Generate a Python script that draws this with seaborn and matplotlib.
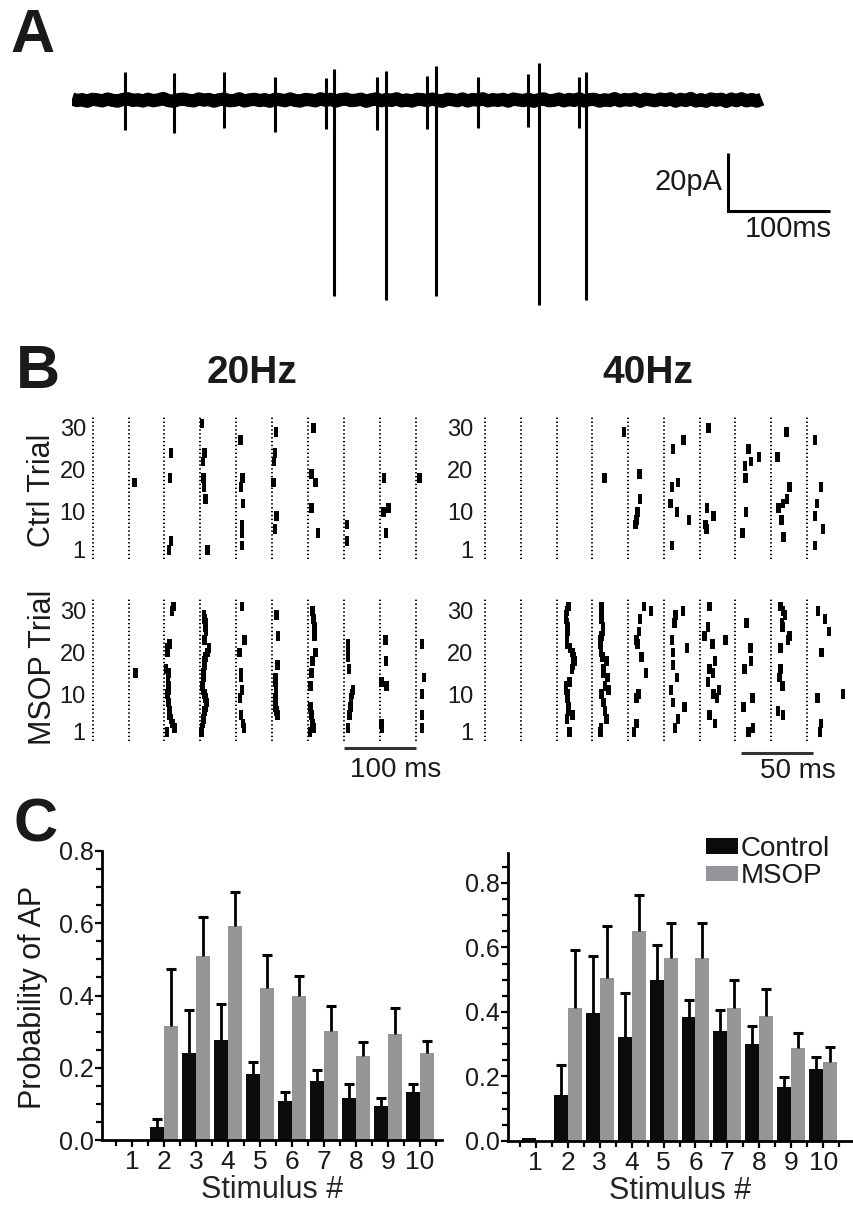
import matplotlib
matplotlib.use("Agg")
import matplotlib.pyplot as plt
from matplotlib.patches import Patch
from matplotlib.ticker import MultipleLocator, FixedLocator, FormatStrFormatter
import seaborn as sns
import pandas as pd
import numpy as np

# ---------------- Panel A: example cell-attached trace (20 Hz train) ----------------
A_STIM_TIMES = [52, 101, 150, 200, 250, 301, 350, 400, 450, 500]          # ms
A_ARTIFACT_UP = [9.7, 9.3, 9.7, 7.9, 7.6, 7.9, 8.3, 7.9, 9.0, 7.9]         # pA
A_ARTIFACT_DOWN = [-10.3, -11.4, -9.7, -11.0, -10.0, -10.3, -10.0, -9.7, -9.3, -9.7]
A_AP_STIMULI = [5, 6, 7, 9, 10]
A_AP_LATENCY = [8, 9, 9, 10, 7]                                            # ms
A_AP_UP = [10.7, 10.0, 11.7, 12.8, 9.7]
A_AP_DOWN = [-67.6, -69.0, -67.6, -70.7, -69.0]
# baseline noise, one value every 5 ms
A_BASELINE = [0.4, -0.2, 0.15, -0.45, 0.25, 0.05, -0.3, 0.35, -0.1, -0.4, 0.2, 0.45, -0.15, 0.1, -0.35, 0.3, -0.25, 0.05, 0.55, -0.2,
              -0.45, 0.15, 0.3, -0.1, -0.3, 0.4, -0.05, 0.2, -0.4, 0.1, 0.35, -0.25, -0.15, 0.45, -0.35, 0.05, 0.25, -0.2, 0.15, -0.45,
              0.3, 0.1, -0.25, 0.4, -0.15, -0.35, 0.2, 0.05, -0.3, 0.45, -0.1, 0.25, -0.4, 0.15, 0.35, -0.2, -0.05, 0.3, -0.45, 0.1,
              0.4, -0.25, 0.2, -0.15, 0.45, -0.3, 0.05, -0.4, 0.25, 0.15, -0.2, 0.35, -0.1, -0.45, 0.3, 0.1, -0.25, 0.4, -0.35, 0.2,
              -0.05, 0.45, -0.3, 0.15, -0.15, 0.25, -0.4, 0.35, 0.05, -0.2, 0.3, -0.45, 0.1, 0.4, -0.25, -0.1, 0.35, -0.3, 0.2, -0.15,
              0.45, -0.35, 0.15, 0.25, -0.4, 0.1, -0.2, 0.5, -0.3, 0.2, -0.1, 0.4, -0.45, 0.3, 0.05, -0.25, 0.35, -0.15, 0.45, -0.4,
              0.25, -0.2, 0.55, -0.35, 0.15, -0.45, 0.4, -0.1, 0.3, -0.5, 0.35, -0.25, 0.45, -0.3, 0.2, -0.4, 0.3]

# ---------------- Panel B: rasters (stimulus #, latency ms, trial) ----------------
CTRL_20HZ = [
    (2, 8.4, 17),
    (3, 9.3, 24), (3, 7.9, 18), (3, 9.3, 3), (3, 6.5, 1),
    (4, 2.3, 31), (4, 6.0, 24), (4, 3.7, 22), (4, 4.7, 18), (4, 5.1, 16), (4, 7.0, 13), (4, 9.8, 1),
    (5, 6.0, 27), (5, 9.0, 18), (5, 6.5, 16), (5, 9.8, 12), (5, 8.0, 7), (5, 8.0, 5), (5, 8.0, 2),
    (6, 5.6, 29), (6, 4.2, 24), (6, 2.8, 22), (6, 1.9, 17), (6, 6.5, 9), (6, 4.2, 6),
    (7, 7.5, 30), (7, 5.1, 19), (7, 10.3, 17), (7, 4.7, 11), (7, 14.4, 5),
    (8, 4.7, 7), (8, 4.7, 3),
    (9, 6.0, 18), (9, 12.1, 11), (9, 5.1, 10), (9, 8.9, 5),
    (10, 5.6, 18),
]
CTRL_40HZ = [
    (4, 8.6, 18), (4, 22.1, 29),
    (5, 8.2, 19), (5, 8.4, 13), (5, 6.8, 10), (5, 6.1, 8), (5, 5.1, 7),
    (6, 6.3, 25), (6, 13.8, 27), (6, 9.8, 17), (6, 5.8, 16), (6, 4.7, 12), (6, 9.1, 10), (6, 17.5, 8), (6, 5.6, 2),
    (7, 6.1, 30), (7, 5.1, 11), (7, 9.8, 9), (7, 4.2, 7), (7, 4.7, 6),
    (8, 9.3, 25), (8, 11.0, 22), (8, 16.5, 23), (8, 6.8, 21), (8, 7.2, 18), (8, 7.5, 10), (8, 4.9, 5),
    (9, 10.7, 29), (9, 4.4, 23), (9, 12.8, 16), (9, 11.2, 13), (9, 8.4, 12), (9, 5.1, 11), (9, 7.2, 8), (9, 8.6, 4),
    (10, 5.6, 27), (10, 10.0, 16), (10, 7.2, 12), (10, 5.6, 9), (10, 11.2, 6), (10, 5.8, 2),
]
MSOP_20HZ = [
    (2, 9.8, 15),
    (3, 12.6, 31), (3, 10.3, 30), (3, 7.0, 22), (3, 4.5, 21), (3, 4.2, 20), (3, 2.3, 16), (3, 5.6, 15),
    (3, 4.7, 14), (3, 5.0, 13), (3, 6.5, 12), (3, 5.6, 11), (3, 3.7, 10), (3, 5.0, 9), (3, 5.6, 8),
    (3, 6.5, 7), (3, 7.9, 6), (3, 7.0, 5), (3, 9.3, 4), (3, 11.0, 3), (3, 14.0, 2), (3, 3.3, 1),
    (4, 5.1, 29), (4, 5.5, 28), (4, 7.0, 27), (4, 7.5, 26), (4, 7.9, 25), (4, 6.0, 23), (4, 12.1, 21),
    (4, 10.0, 20), (4, 7.0, 19), (4, 6.0, 18), (4, 5.5, 17), (4, 5.1, 16), (4, 4.5, 15), (4, 4.2, 14),
    (4, 3.5, 13), (4, 2.3, 12), (4, 4.0, 11), (4, 6.0, 10), (4, 7.5, 9), (4, 8.4, 8), (4, 8.0, 7),
    (4, 6.0, 6), (4, 5.1, 5), (4, 4.5, 4), (4, 3.7, 3), (4, 2.5, 2), (4, 1.4, 1),
    (5, 7.9, 31), (5, 11.6, 23), (5, 4.7, 20), (5, 7.0, 15), (5, 6.5, 14), (5, 7.9, 11), (5, 5.6, 9),
    (5, 7.0, 5), (5, 9.5, 3), (5, 11.2, 2),
    (6, 6.5, 29), (6, 8.4, 24), (6, 7.5, 17), (6, 4.7, 14), (6, 5.0, 13), (6, 5.6, 12), (6, 5.2, 11),
    (6, 5.6, 10), (6, 4.7, 9), (6, 4.2, 8), (6, 5.0, 7), (6, 6.0, 6), (6, 7.5, 5),
    (7, 6.5, 30), (7, 7.0, 29), (7, 7.5, 28), (7, 8.4, 27), (7, 9.0, 26), (7, 9.3, 25), (7, 9.3, 24),
    (7, 10.7, 20), (7, 6.5, 18), (7, 4.7, 15), (7, 3.7, 12), (7, 3.7, 7), (7, 4.5, 6), (7, 4.7, 5),
    (7, 5.5, 4), (7, 6.5, 3), (7, 7.5, 2), (7, 2.8, 1),
    (8, 5.6, 22), (8, 5.6, 21), (8, 5.6, 20), (8, 5.6, 19), (8, 7.0, 16), (8, 12.6, 11), (8, 11.5, 10),
    (8, 10.3, 9), (8, 10.3, 8), (8, 9.5, 7), (8, 8.4, 6), (8, 8.0, 5), (8, 5.6, 2),
    (9, 8.4, 23), (9, 8.9, 18), (9, 2.8, 13), (9, 9.3, 12), (9, 2.8, 3), (9, 3.5, 2),
    (10, 9.3, 22), (10, 11.6, 14), (10, 9.3, 10), (10, 9.3, 5), (10, 9.3, 2),
]
MSOP_40HZ = [
    (3, 8.2, 31), (3, 7.5, 30), (3, 6.5, 29), (3, 6.5, 28), (3, 7.2, 27), (3, 7.7, 26), (3, 7.7, 25),
    (3, 7.2, 23), (3, 7.2, 22), (3, 9.5, 21), (3, 11.2, 20), (3, 12.0, 19), (3, 12.4, 18), (3, 11.5, 17),
    (3, 10.7, 16), (3, 8.9, 13), (3, 6.5, 12), (3, 6.5, 11), (3, 7.7, 10), (3, 7.7, 9), (3, 8.2, 7),
    (3, 8.2, 6), (3, 11.2, 5), (3, 7.2, 4), (3, 8.9, 1),
    (4, 6.3, 31), (4, 6.3, 30), (4, 6.3, 28), (4, 7.5, 26), (4, 7.5, 25), (4, 6.5, 24), (4, 5.6, 23),
    (4, 5.6, 22), (4, 6.1, 20), (4, 7.0, 19), (4, 9.8, 18), (4, 8.0, 16), (4, 7.5, 15), (4, 10.7, 14),
    (4, 9.0, 12), (4, 11.4, 11), (4, 6.3, 10), (4, 7.9, 8), (4, 8.9, 6), (4, 9.8, 4), (4, 6.1, 2), (4, 5.6, 1),
    (5, 11.2, 31), (5, 15.9, 30), (5, 8.4, 28), (5, 7.7, 25), (5, 6.1, 23), (5, 6.5, 22), (5, 9.3, 19),
    (5, 12.4, 15), (5, 7.5, 10), (5, 6.1, 9), (5, 5.8, 3), (5, 4.2, 1),
    (6, 13.3, 30), (6, 8.2, 29), (6, 7.5, 27), (6, 5.6, 23), (6, 16.1, 21), (6, 6.3, 20), (6, 6.3, 17),
    (6, 9.3, 14), (6, 5.1, 11), (6, 6.3, 8), (6, 14.5, 7), (6, 9.8, 4), (6, 7.9, 2),
    (7, 7.0, 31), (7, 5.8, 26), (7, 3.5, 24), (7, 18.2, 23), (7, 8.9, 22), (7, 10.7, 18), (7, 7.0, 16),
    (7, 9.3, 15), (7, 5.8, 13), (7, 13.5, 11), (7, 9.8, 10), (7, 12.1, 9), (7, 7.0, 5), (7, 10.7, 3),
    (8, 7.7, 27), (8, 10.5, 21), (8, 11.0, 18), (8, 6.5, 16), (8, 11.9, 9), (8, 5.8, 7), (8, 12.4, 2), (8, 9.3, 1),
    (9, 6.5, 31), (9, 8.5, 30), (9, 9.6, 29), (9, 7.7, 27), (9, 8.0, 26), (9, 13.0, 24), (9, 11.9, 23),
    (9, 6.5, 21), (9, 6.5, 16), (9, 6.0, 14), (9, 7.9, 12), (9, 4.9, 6), (9, 8.4, 5),
    (10, 7.9, 30), (10, 12.6, 28), (10, 15.4, 25), (10, 10.3, 20), (10, 25.4, 10), (10, 7.5, 9),
    (10, 9.8, 3), (10, 9.1, 1),
]

# ---------------- Panel C: probability of AP per stimulus (mean, SEM) ----------------
STIMULI = list(range(1, 11))
CTRL_20_MEAN = [0.0, 0.037, 0.240, 0.278, 0.184, 0.108, 0.164, 0.117, 0.094, 0.134]
CTRL_20_SEM = [0.0, 0.020, 0.120, 0.098, 0.033, 0.024, 0.031, 0.037, 0.021, 0.020]
MSOP_20_MEAN = [0.0, 0.316, 0.510, 0.592, 0.421, 0.398, 0.302, 0.232, 0.293, 0.240]
MSOP_20_SEM = [0.0, 0.156, 0.107, 0.094, 0.092, 0.057, 0.068, 0.039, 0.073, 0.034]
CTRL_40_MEAN = [0.010, 0.142, 0.398, 0.323, 0.500, 0.383, 0.342, 0.300, 0.168, 0.224]
CTRL_40_SEM = [0.0, 0.093, 0.175, 0.136, 0.107, 0.054, 0.064, 0.057, 0.031, 0.037]
MSOP_40_MEAN = [0.0, 0.412, 0.506, 0.651, 0.566, 0.566, 0.412, 0.389, 0.289, 0.246]
MSOP_40_SEM = [0.0, 0.181, 0.161, 0.113, 0.111, 0.111, 0.088, 0.081, 0.046, 0.046]

BAR_COLORS = {"Control": "#0b0b0b", "MSOP": "#939598"}
TEXT_COLOR = "#1a1a1a"

W, H = 854, 1212

sns.set_theme(style="white")
plt.rcParams["font.family"] = ["Liberation Sans", "DejaVu Sans"]
plt.rcParams["text.color"] = TEXT_COLOR

fig = plt.figure(figsize=(W / 100, H / 100), dpi=100)


def px_axes(left, top, right, bottom):
    """Add axes from a box given in figure pixels (origin top-left)"""
    return fig.add_axes([left / W, 1 - bottom / H, (right - left) / W, (bottom - top) / H])


def fig_text(x, y, s, **kw):
    fig.text(x / W, 1 - y / H, s, **kw)


# ---------------- Panel A ----------------
axA = px_axes(72, 55, 845, 315)
base_t = np.arange(len(A_BASELINE)) * 5
sns.lineplot(x=base_t, y=A_BASELINE, color="black", linewidth=9.5,
             solid_capstyle="butt", ax=axA)
axA.vlines(A_STIM_TIMES, A_ARTIFACT_DOWN, A_ARTIFACT_UP, color="black", linewidth=2.2)
ap_times = [A_STIM_TIMES[s - 1] + lat for s, lat in zip(A_AP_STIMULI, A_AP_LATENCY)]
axA.vlines(ap_times, A_AP_DOWN, A_AP_UP, color="black", linewidth=2.2)
# scale bar 20 pA / 100 ms
axA.plot([647, 647, 747], [-18.3, -38.3, -38.3], color="black", linewidth=2.2,
         solid_joinstyle="miter", solid_capstyle="butt")
axA.text(641, -28.3, "20pA", ha="right", va="center", fontsize=21)
axA.text(706, -44.5, "100ms", ha="center", va="center", fontsize=21)
axA.set_xlim(0, 762)
axA.set_ylim(-74, 15.5)
axA.axis("off")

# ---------------- Panel B ----------------
TICK_MARK = [(-0.23, -0.5), (0.23, -0.5), (0.23, 0.5), (-0.23, 0.5), (-0.23, -0.5)]


def draw_raster(ax, spikes, period, xlim, pad):
    df = pd.DataFrame(spikes, columns=["stimulus", "latency", "trial"])
    df["time"] = (df["stimulus"] - 1) * period + df["latency"]
    for k in range(10):
        ax.axvline(k * period, color="black", linewidth=1.4, linestyle=(0, (0.7, 1.3)))
    sns.scatterplot(data=df, x="time", y="trial", marker=TICK_MARK, s=50, color="black",
                    edgecolor="none", linewidth=0, legend=False, ax=ax)
    ax.set_xlim(*xlim)
    ax.set_ylim(-1.2, 32.8)
    ax.set_yticks([1, 10, 20, 30])
    ax.set_xticks([])
    ax.set_xlabel("")
    ax.set_ylabel("")
    ax.tick_params(axis="y", length=0, pad=pad, labelsize=17, labelcolor=TEXT_COLOR)
    for sp in ax.spines.values():
        sp.set_visible(False)


ax_c20 = px_axes(90, 416, 432, 559)
draw_raster(ax_c20, CTRL_20HZ, 50, (-3.8, 473), 3)
ax_c40 = px_axes(483, 416, 852, 559)
draw_raster(ax_c40, CTRL_40HZ, 25, (-1.4, 256.6), 7)
ax_m20 = px_axes(90, 599, 432, 741)
draw_raster(ax_m20, MSOP_20HZ, 50, (-3.8, 473), 3)
ax_m40 = px_axes(483, 599, 852, 741)
draw_raster(ax_m40, MSOP_40HZ, 25, (-1.4, 256.6), 7)

# time scale bars
ax_m20.plot([350, 450], [-2.9, -2.9], color="#333333", linewidth=2.2, clip_on=False,
            solid_capstyle="butt")
ax_m20.text(422, -8.2, "100 ms", ha="center", va="center", fontsize=20, clip_on=False)
ax_m40.plot([179, 229], [-4.1, -4.1], color="#333333", linewidth=2.2, clip_on=False,
            solid_capstyle="butt")
ax_m40.text(219, -8.4, "50 ms", ha="center", va="center", fontsize=20, clip_on=False)

fig_text(252, 383, "20Hz", ha="center", va="baseline", fontsize=28, fontweight="bold")
fig_text(648, 383, "40Hz", ha="center", va="baseline", fontsize=28, fontweight="bold")
fig_text(42, 490, "Ctrl Trial", rotation=90, ha="center", va="center", fontsize=22)
fig_text(43, 667, "MSOP Trial", rotation=90, ha="center", va="center", fontsize=22)

# ---------------- Panel C ----------------


def draw_bars(ax, ctrl, ctrl_sem, msop, msop_sem, xlim, ylim):
    df = pd.DataFrame({
        "stimulus": STIMULI * 2,
        "prob": ctrl + msop,
        "sem": ctrl_sem + msop_sem,
        "condition": ["Control"] * len(STIMULI) + ["MSOP"] * len(STIMULI),
    })
    sns.barplot(data=df, x="stimulus", y="prob", hue="condition",
                hue_order=["Control", "MSOP"], palette=BAR_COLORS,
                native_scale=True, width=0.875, errorbar=None, legend=False,
                edgecolor="none", linewidth=0, ax=ax)
    # SEM bars (upper half only) on top of each bar
    for patch in ax.patches:
        cx = patch.get_x() + patch.get_width() / 2
        stim = int(round(cx))
        cond = "Control" if cx < stim else "MSOP"
        row = df[(df["stimulus"] == stim) & (df["condition"] == cond)].iloc[0]
        if row["sem"] > 0:
            top = row["prob"] + row["sem"]
            ax.vlines(cx, row["prob"], top, color="black", linewidth=2.0)
            ax.plot([cx], [top], marker="_", markersize=6.5, markeredgewidth=2.2, color="black")
    ax.set_xlim(*xlim)
    ax.set_ylim(*ylim)
    ax.xaxis.set_major_locator(FixedLocator(STIMULI))
    ax.xaxis.set_minor_locator(MultipleLocator(0.5))
    ax.yaxis.set_major_locator(FixedLocator([0.0, 0.2, 0.4, 0.6, 0.8]))
    ax.yaxis.set_minor_locator(MultipleLocator(0.05))
    ax.yaxis.set_major_formatter(FormatStrFormatter("%.1f"))
    ax.tick_params(which="both", direction="out", color="black", width=1.6,
                   labelcolor=TEXT_COLOR, bottom=True, left=True)
    ax.tick_params(which="major", length=5)
    ax.tick_params(which="minor", length=4)
    ax.tick_params(axis="x", pad=2, labelsize=19)
    ax.tick_params(axis="y", pad=1, labelsize=18)
    ax.set_xlabel("Stimulus #", fontsize=22, labelpad=1)
    ax.set_ylabel("")
    for side in ("top", "right"):
        ax.spines[side].set_visible(False)
    for side in ("left", "bottom"):
        ax.spines[side].set_linewidth(2.0)
        ax.spines[side].set_color("black")
    ax.patch.set_alpha(0)


ax_p20 = px_axes(102, 851, 442, 1140)
draw_bars(ax_p20, CTRL_20_MEAN, CTRL_20_SEM, MSOP_20_MEAN, MSOP_20_SEM, (0.06, 10.7), (0, 0.8))
ax_p40 = px_axes(508, 853, 852, 1141)
draw_bars(ax_p40, CTRL_40_MEAN, CTRL_40_SEM, MSOP_40_MEAN, MSOP_40_SEM, (0.13, 10.9), (0, 0.893))

handles = [Patch(facecolor=BAR_COLORS["Control"], edgecolor="none"),
           Patch(facecolor=BAR_COLORS["MSOP"], edgecolor="none")]
ax_p40.legend(handles, ["Control", "MSOP"], loc="upper left",
              bbox_to_anchor=(706 / W, 1 - 836 / H), bbox_transform=fig.transFigure,
              frameon=False, fontsize=20, handlelength=1.15, handleheight=0.5,
              handletextpad=0.1, labelspacing=0.05, borderpad=0, borderaxespad=0)

fig_text(33, 997, "Probability of AP", rotation=90, ha="center", va="center", fontsize=22)

# panel letters
for letter, (x, y) in {"A": (10, 52), "B": (16, 388), "C": (14, 842)}.items():
    fig_text(x, y, letter, ha="left", va="baseline", fontsize=44, fontweight="bold")

fig.savefig("out.png", dpi=100)
